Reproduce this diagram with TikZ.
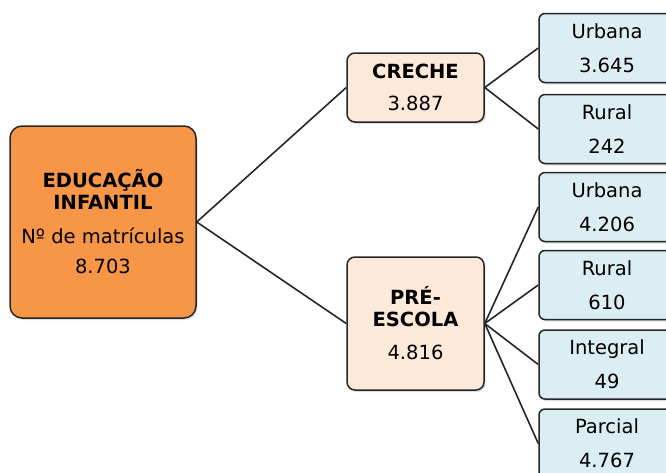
\documentclass[tikz,border=0pt]{standalone}
\usepackage{fontspec}
\setmainfont{DejaVu Sans}
\usetikzlibrary{shadows}
\definecolor{edgeline}{HTML}{262626}
\definecolor{rootfill}{HTML}{F79646}
\definecolor{midfill}{HTML}{FDE9D9}
\definecolor{leaffill}{HTML}{DAEEF3}

\begin{document}
\begin{tikzpicture}[x=1pt,y=-1pt,
  box/.style={draw=edgeline, line width=1.5pt, align=center, inner sep=0pt,
    font=\fontsize{19.5}{33}\selectfont,
    drop shadow={opacity=0.25, shadow xshift=1.5pt, shadow yshift=-2pt}},
  rootbox/.style={box, fill=rootfill, rounded corners=12pt,
    minimum width=186pt, minimum height=192pt},
  midbox/.style={box, fill=midfill, rounded corners=8pt,
    minimum width=137pt},
  leafbox/.style={box, fill=leaffill, rounded corners=6pt,
    font=\fontsize{19.5}{34}\selectfont,
    minimum width=136pt, minimum height=69pt},
  link/.style={draw=edgeline, line width=1.6pt}]
\useasboundingbox (0,0) rectangle (666,472);
\clip (0,0) rectangle (666,472);

% nivel 1
\node [rootbox] (educ) at (103,222)
  {\textbf{EDUCAÇÃO}\\[-11pt]\textbf{INFANTIL}\\[1pt]Nº de matrículas\\[-3pt]8.703};

% nivel 2
\node [midbox, minimum height=69pt] (creche) at (415.5,87.5)
  {\textbf{CRECHE}\\[-1pt]3.887};
\node [midbox, minimum height=133pt] (pre) at (415.5,323.5)
  {\textbf{PRÉ-}\\[-11pt]\textbf{ESCOLA}\\[0pt]4.816};

% nivel 3
\node [leafbox] (crecheurb) at (607,48) {Urbana\\3.645};
\node [leafbox] (crecherur) at (607,129) {Rural\\242};
\node [leafbox] (preurb) at (607,207) {Urbana\\4.206};
\node [leafbox] (prerur) at (607,285) {Rural\\610};
\node [leafbox] (preint) at (607,364.5) {Integral\\49};
\node [leafbox] (prepar) at (607,443.5) {Parcial\\4.767};

% ligacoes
\draw [link] (educ.east) -- (creche.west);
\draw [link] (educ.east) -- (pre.west);
\draw [link] (creche.east) -- (crecheurb.west);
\draw [link] (creche.east) -- (crecherur.west);
\draw [link] (pre.east) -- (preurb.west);
\draw [link] (pre.east) -- (prerur.west);
\draw [link] (pre.east) -- (preint.west);
\draw [link] (pre.east) -- (prepar.west);
\end{tikzpicture}
\end{document}
